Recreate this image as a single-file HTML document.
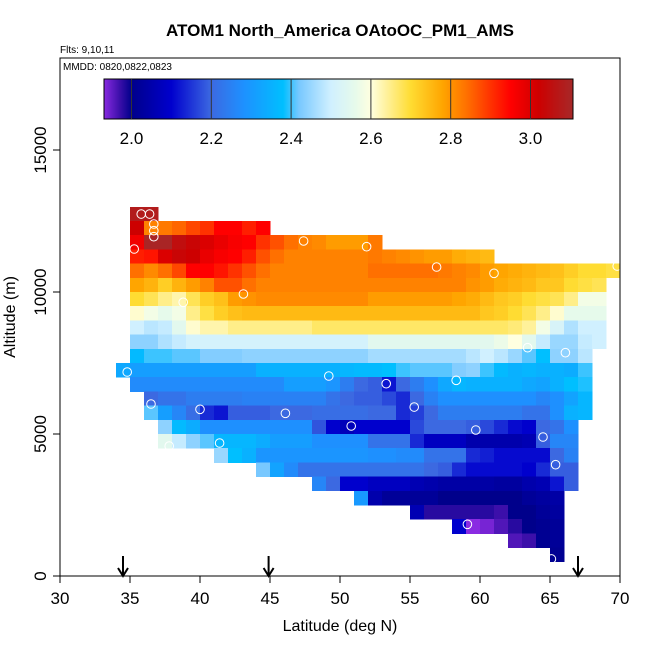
<!DOCTYPE html>
<html><head><meta charset="utf-8"><style>
html,body{margin:0;padding:0;background:#fff;}
svg{display:block;font-family:"Liberation Sans",sans-serif;}
</style></head><body>
<svg id="chart" width="650" height="650" viewBox="0 0 650 650" xmlns="http://www.w3.org/2000/svg">
<text x="340" y="36" text-anchor="middle" font-size="17" font-weight="bold">ATOM1 North_America OAtoOC_PM1_AMS</text>
<text x="60" y="53" font-size="10">Flts: 9,10,11</text>
<g id="cells"></g>
<g id="points"></g>
<rect x="60" y="58" width="560" height="518" fill="none" stroke="#000" stroke-width="1"/>
<text x="63" y="70" font-size="10">MMDD: 0820,0822,0823</text>
<g id="colorbar"></g>
<g id="xaxis"></g>
<g id="yaxis"></g>
<g id="arrows"></g>
<text x="340" y="631" text-anchor="middle" font-size="16">Latitude (deg N)</text>
<text x="0" y="0" transform="translate(15,317) rotate(-90)" text-anchor="middle" font-size="16">Altitude (m)</text>
</svg>
<script>
const rowAlts = [12500,12000,11500,11000,10500,10000,9500,9000,8500,8000,7500,7000,6500,6000,5500,5000,4500,4000,3500,3000,2500,2000,1500,1000,500];
const rowStartLat = [35,35,35,35,35,35,35,35,35,35,35,34,35,36,36,37,37,41,44,48,51,55,58,62,65];
const rowValues = [
[3.08,3.08],
[3.02,2.82,2.83,2.85,2.88,2.9,2.95,2.95,2.92,2.95],
[2.97,3.1,3.1,3.05,3.03,3.0,2.98,2.96,2.95,2.9,2.87,2.84,2.82,2.81,2.79,2.79,2.79,2.83],
[2.92,2.93,3.0,3.03,3.02,2.98,2.96,2.95,2.92,2.87,2.84,2.82,2.82,2.82,2.82,2.82,2.82,2.83,2.82,2.81,2.8,2.79,2.79,2.77,2.76,2.75],
[2.84,2.81,2.84,2.88,2.95,2.95,2.93,2.9,2.87,2.84,2.82,2.82,2.82,2.82,2.82,2.82,2.82,2.84,2.84,2.84,2.84,2.84,2.83,2.82,2.81,2.79,2.78,2.77,2.76,2.75,2.74,2.72,2.7,2.7,2.69],
[2.78,2.76,2.72,2.76,2.79,2.82,2.87,2.87,2.84,2.82,2.82,2.82,2.82,2.82,2.82,2.82,2.82,2.82,2.82,2.82,2.82,2.82,2.82,2.82,2.8,2.79,2.77,2.76,2.75,2.73,2.73,2.7,2.69,2.68],
[2.7,2.68,2.65,2.63,2.68,2.72,2.74,2.79,2.8,2.81,2.81,2.81,2.81,2.81,2.81,2.81,2.81,2.79,2.79,2.79,2.79,2.79,2.79,2.78,2.77,2.75,2.73,2.72,2.7,2.69,2.68,2.65,2.58,2.58],
[2.61,2.58,2.56,2.58,2.65,2.69,2.72,2.74,2.75,2.75,2.75,2.75,2.75,2.75,2.75,2.75,2.75,2.75,2.75,2.75,2.75,2.75,2.75,2.75,2.75,2.73,2.72,2.7,2.68,2.65,2.61,2.56,2.56,2.56],
[2.5,2.48,2.49,2.55,2.61,2.63,2.63,2.65,2.65,2.65,2.65,2.65,2.65,2.67,2.67,2.67,2.67,2.67,2.67,2.67,2.67,2.67,2.67,2.67,2.67,2.67,2.67,2.66,2.64,2.58,2.52,2.47,2.5,2.5],
[2.44,2.44,2.47,2.49,2.51,2.51,2.51,2.51,2.51,2.51,2.51,2.51,2.51,2.51,2.51,2.51,2.51,2.55,2.55,2.55,2.55,2.55,2.55,2.55,2.55,2.55,2.57,2.6,2.55,2.49,2.45,2.45,2.49,2.5],
[2.37,2.4,2.4,2.41,2.41,2.43,2.43,2.43,2.44,2.44,2.44,2.44,2.44,2.44,2.44,2.44,2.44,2.46,2.46,2.46,2.46,2.46,2.46,2.46,2.48,2.5,2.48,2.45,2.41,2.38,2.44,2.44,2.48],
[2.33,2.31,2.31,2.31,2.31,2.31,2.31,2.31,2.31,2.31,2.35,2.35,2.35,2.35,2.35,2.35,2.36,2.37,2.37,2.38,2.4,2.41,2.41,2.41,2.43,2.44,2.4,2.37,2.35,2.36,2.35,2.35,2.34,2.4],
[2.27,2.27,2.27,2.27,2.27,2.27,2.27,2.27,2.27,2.27,2.27,2.31,2.31,2.31,2.29,2.24,2.2,2.19,2.12,2.2,2.24,2.28,2.33,2.36,2.35,2.35,2.35,2.35,2.33,2.32,2.35,2.38,2.39],
[2.2,2.22,2.22,2.24,2.24,2.24,2.24,2.25,2.25,2.25,2.25,2.25,2.25,2.22,2.2,2.19,2.19,2.17,2.14,2.2,2.25,2.28,2.28,2.28,2.28,2.28,2.28,2.28,2.26,2.28,2.32,2.36],
[2.41,2.31,2.26,2.21,2.14,2.12,2.19,2.19,2.19,2.2,2.2,2.2,2.21,2.21,2.21,2.21,2.2,2.2,2.14,2.16,2.2,2.24,2.24,2.24,2.24,2.24,2.24,2.22,2.22,2.28,2.35,2.36],
[2.44,2.37,2.34,2.28,2.28,2.28,2.28,2.28,2.28,2.28,2.28,2.18,2.1,2.07,2.1,2.1,2.1,2.1,2.17,2.2,2.2,2.2,2.19,2.17,2.14,2.11,2.1,2.2,2.22,2.28],
[2.55,2.49,2.44,2.41,2.36,2.36,2.36,2.34,2.31,2.31,2.31,2.28,2.28,2.28,2.28,2.22,2.22,2.22,2.14,2.08,2.08,2.08,2.05,2.05,2.05,2.05,2.06,2.19,2.26,2.26],
[2.45,2.38,2.35,2.29,2.29,2.29,2.29,2.29,2.29,2.29,2.29,2.28,2.28,2.27,2.27,2.22,2.22,2.22,2.14,2.13,2.11,2.11,2.11,2.11,2.2,2.25],
[2.42,2.32,2.27,2.22,2.22,2.22,2.22,2.22,2.22,2.22,2.22,2.22,2.2,2.19,2.14,2.11,2.11,2.11,2.11,2.1,2.14,2.19,2.19],
[2.26,2.2,2.1,2.1,2.08,2.08,2.08,2.06,2.05,2.04,2.04,2.04,2.04,2.03,2.03,2.05,2.06,2.12,2.19],
[2.3,2.05,2.02,2.02,2.02,2.02,2.0,2.0,2.0,2.0,2.0,2.0,2.02,2.03,2.04],
[2.06,1.98,1.98,1.98,1.98,1.98,1.97,2.0,2.0,2.02,2.03],
[2.1,1.93,1.94,1.96,1.98,2.0,2.01,2.02],
[1.96,1.97,2.01,2.02],
[2.01]
];
const pointLats = [35.8,36.4,36.7,36.7,36.7,35.3,47.4,51.9,56.9,61.0,69.8,43.1,38.8,63.4,66.1,34.8,49.2,53.3,58.3,36.5,40.0,46.1,55.3,50.8,59.7,64.5,41.4,37.8,65.4,59.1,65.1];
const pointAlts = [12746,12746,12394,12158,11947,11514,11796,11595,10880,10658,10915,9930,9637,8039,7863,7183,7042,6771,6890,6056,5869,5728,5950,5282,5141,4894,4683,4577,3919,1820,600];
const xTicks = [30,35,40,45,50,55,60,65,70];
const yTicks = [0,5000,10000,15000];
const cbTicks = [2.0,2.2,2.4,2.6,2.8,3.0];
const arrowLats = [34.5,44.9,67.0];

const NS = "http://www.w3.org/2000/svg";
const xS = lat => 60 + (lat - 30) * 14;
const yS = alt => 576 - alt * 0.0284;
const cbX = v => 131.5 + (v - 2.0) * 399;
const stops = [[1.93,[138,43,226]],[1.97,[60,15,170]],[2.0,[0,0,139]],[2.1,[0,0,205]],[2.2,[60,105,225]],[2.28,[30,144,255]],[2.38,[0,191,255]],[2.42,[120,200,255]],[2.5,[208,240,255]],[2.56,[230,250,235]],[2.6,[255,255,224]],[2.7,[255,220,50]],[2.78,[255,165,0]],[2.84,[255,112,0]],[2.9,[255,50,0]],[2.95,[255,0,0]],[3.02,[205,0,0]],[3.11,[165,42,42]]];
function col(v){
  if(v<=stops[0][0]) return `rgb(${stops[0][1]})`;
  for(let i=1;i<stops.length;i++){
    if(v<=stops[i][0]){
      const a=stops[i-1],b=stops[i],t=(v-a[0])/(b[0]-a[0]);
      const c=a[1].map((x,k)=>Math.round(x+(b[1][k]-x)*t));
      return `rgb(${c.join(',')})`;
    }
  }
  return `rgb(${stops[stops.length-1][1]})`;
}
function mk(tag, attrs, parent){
  const e=document.createElementNS(NS,tag);
  for(const k in attrs) e.setAttribute(k,attrs[k]);
  parent.appendChild(e); return e;
}
const cells=document.getElementById('cells');
rowValues.forEach((row,r)=>{
  row.forEach((v,i)=>{
    const lat=rowStartLat[r]+i, alt=rowAlts[r];
    const e=mk('rect',{x:xS(lat),y:yS(alt+500),width:14.4,height:yS(alt)-yS(alt+500)+0.4,fill:col(v),'shape-rendering':'crispEdges'},cells);
    
    
  });
});
const pts=document.getElementById('points');
pointLats.forEach((lat,i)=>{
  const e=mk('circle',{cx:xS(lat),cy:yS(pointAlts[i]),r:4.3,fill:'none',stroke:'#fff','stroke-width':1},pts);
  
  
});
const cb=document.getElementById('colorbar');
for(let x=104;x<573;x++){
  const v=2.0+(x+0.5-131.5)/399;
  mk('rect',{x:x,y:79,width:1.2,height:40,fill:col(v),'shape-rendering':'crispEdges'},cb);
}
mk('rect',{x:104,y:79,width:469,height:40,fill:'none',stroke:'#000','stroke-width':1},cb);
cbTicks.forEach(v=>{
  mk('line',{x1:cbX(v),x2:cbX(v),y1:79,y2:119,stroke:'#333','stroke-width':1},cb);
  const t=mk('text',{x:cbX(v),y:144,'text-anchor':'middle','font-size':17},cb);
  t.textContent=v.toFixed(1);
  
  
});
const xa=document.getElementById('xaxis');
xTicks.forEach(v=>{
  mk('line',{x1:xS(v),x2:xS(v),y1:576,y2:583,stroke:'#000'},xa);
  const t=mk('text',{x:xS(v),y:604,'text-anchor':'middle','font-size':17},xa);
  t.textContent=v;
  
  
});
const ya=document.getElementById('yaxis');
yTicks.forEach(v=>{
  mk('line',{x1:53,x2:60,y1:yS(v),y2:yS(v),stroke:'#000'},ya);
  const t=mk('text',{x:0,y:0,transform:`translate(46,${yS(v)}) rotate(-90)`,'text-anchor':'middle','font-size':17},ya);
  t.textContent=v;
  
  
});
const ar=document.getElementById('arrows');
arrowLats.forEach(lat=>{
  const x=xS(lat);
  const g=mk('g',{},ar);
  
  
  mk('line',{x1:x,x2:x,y1:556,y2:575,stroke:'#000','stroke-width':2},g);
  mk('path',{d:`M${x-5},${568} L${x},${576} L${x+5},${568}`,fill:'none',stroke:'#000','stroke-width':2},g);
});
</script>
</body></html>
